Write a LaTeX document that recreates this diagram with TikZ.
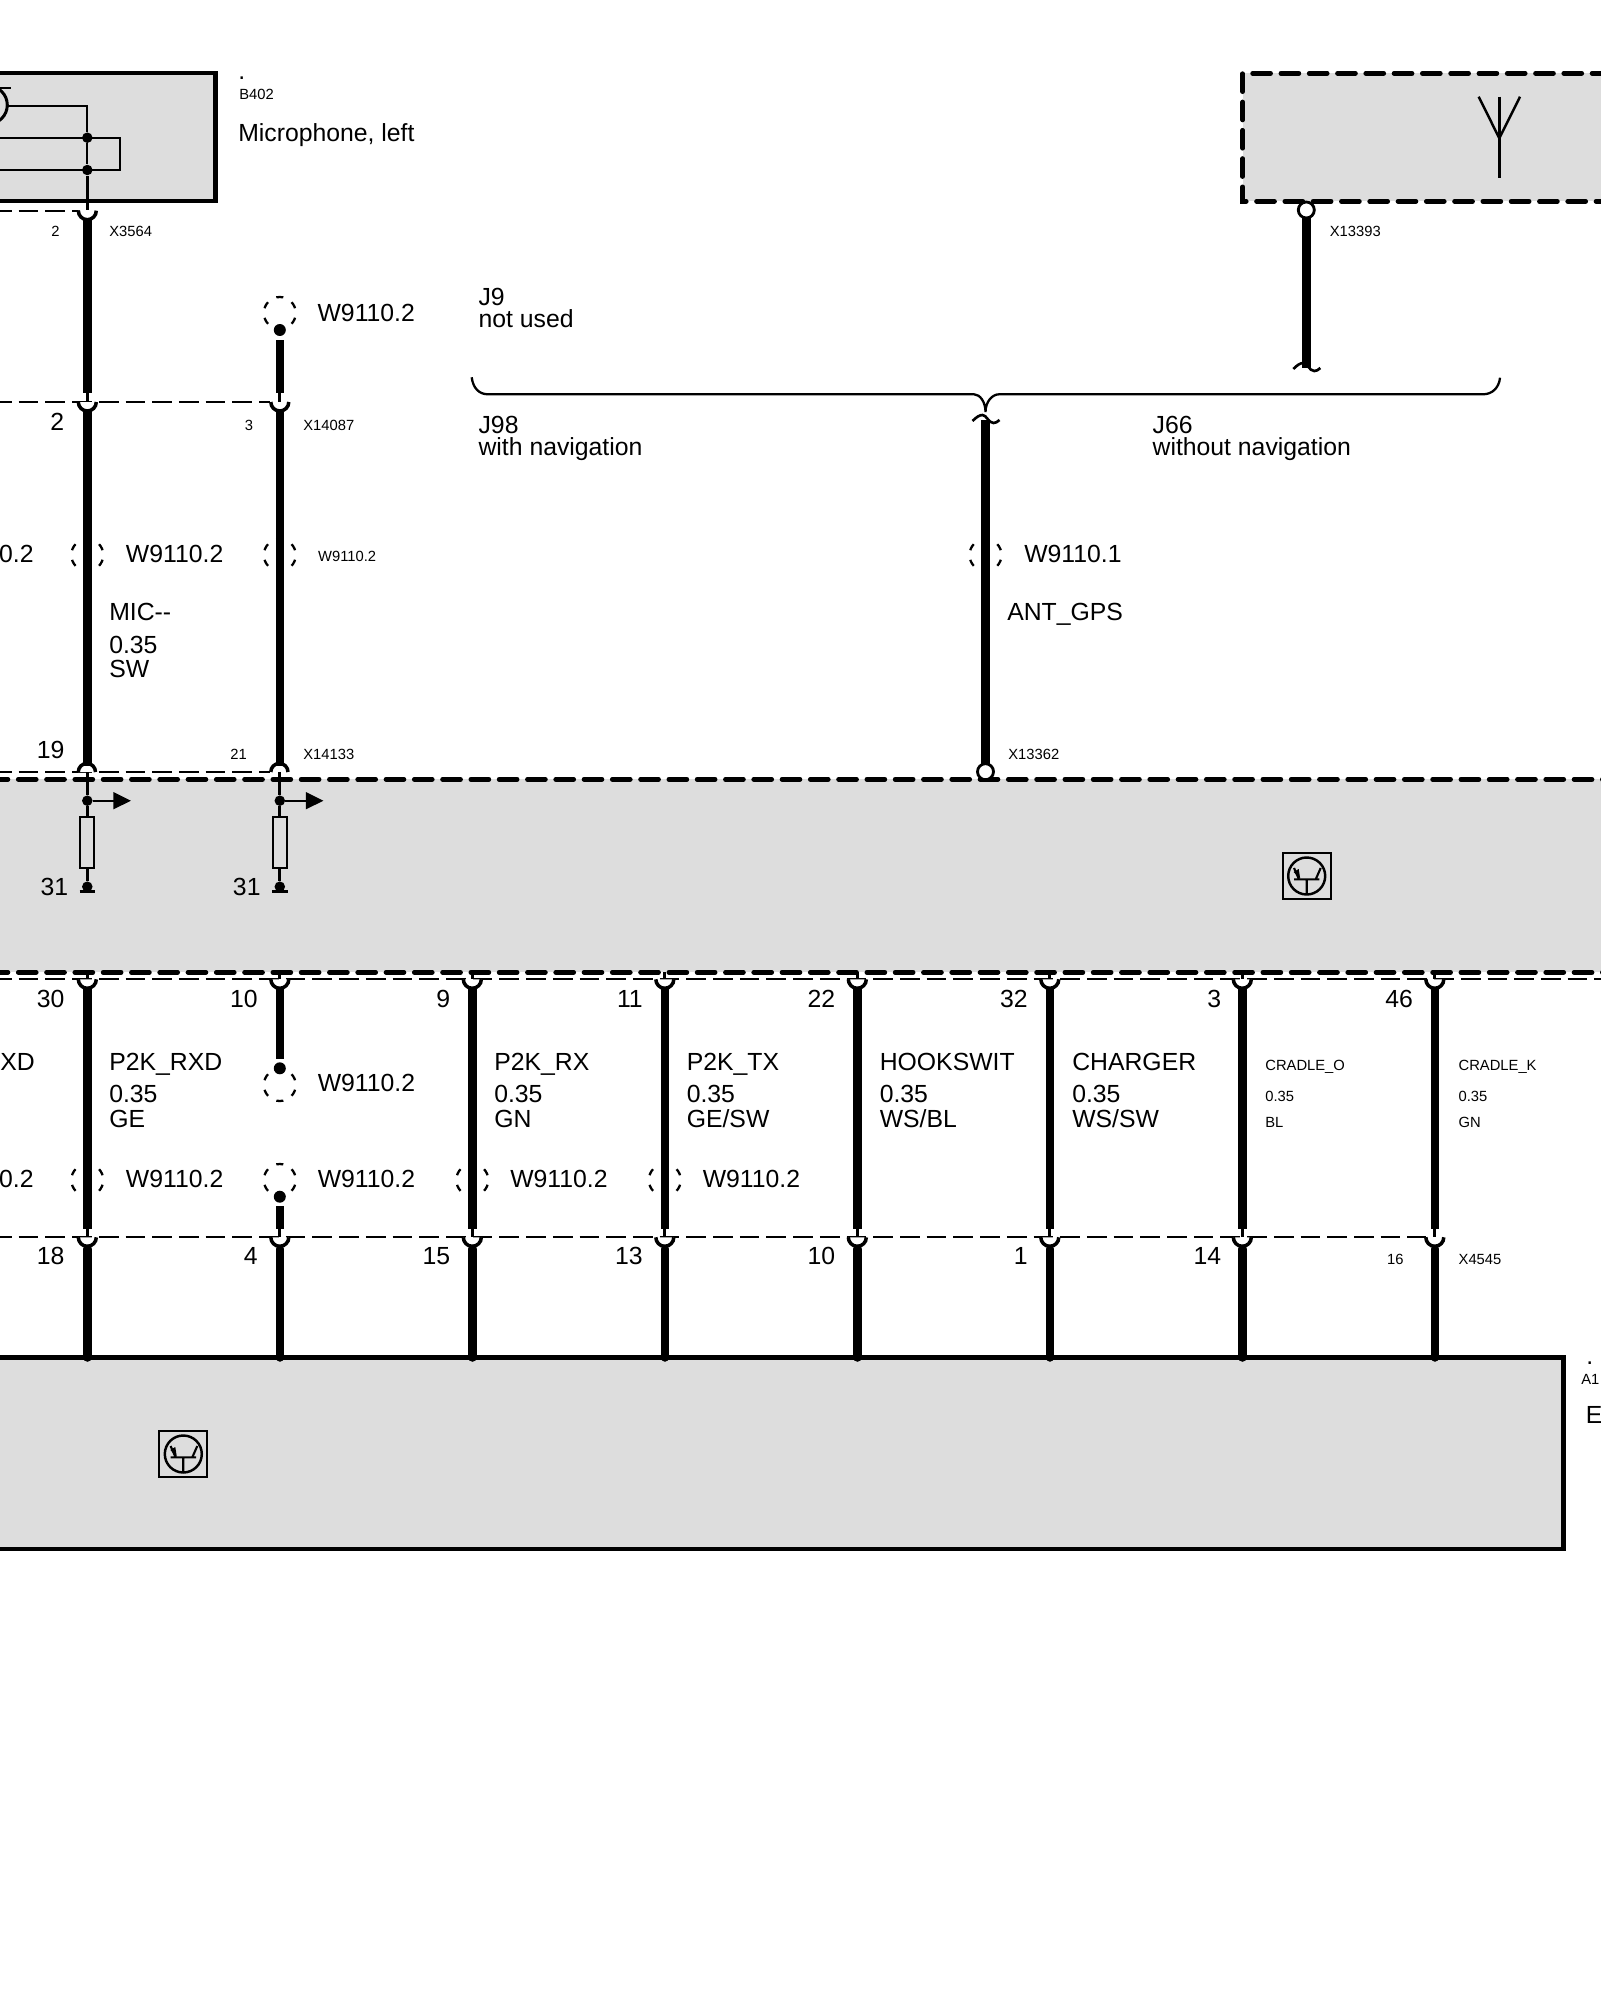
\documentclass[tikz,border=0pt]{standalone}
\usepackage{fontspec}
\setmainfont{Liberation Sans}
\usetikzlibrary{calc,positioning,arrows.meta}

\definecolor{unitgrey}{HTML}{DDDDDD}

\tikzset{
  big/.style={inner sep=0,anchor=base west,xshift=-0.6pt,yshift=-0.3pt,font=\fontsize{14.1}{14}\selectfont},
  bigr/.style={big,anchor=base east,xshift=1.5pt},
  small/.style={inner sep=0,anchor=base west,font=\fontsize{8.4}{9}\selectfont},
  wire/.style={line width=4.84pt},
  wireend/.style={wire,line cap=round},
  stem/.style={line width=1.8pt},
  thin wire/.style={line width=1.3pt},
  unit/.style={fill=unitgrey,line width=2.56pt,miter limit=10},
  unit dash/.style={line width=2.7pt,line cap=round,dash pattern=on 10.2pt off 5.9pt},
  sep dash/.style={line width=1pt,dash pattern=on 11.2pt off 4pt},
  shield/.style={circle,draw,inner sep=0,minimum size=0.64cm,line width=1.3pt,
                 dash pattern=on 3.98pt off 5.55pt,dash phase=6.77pt},
  dot/.style={circle,fill=black,inner sep=0,minimum size=0.21cm},
  bigdot/.style={dot,minimum size=0.24cm},
  ring/.style={circle,draw,fill=white,inner sep=0,outer sep=0,minimum size=0.32cm,line width=1.6pt},
  resistor/.style={rectangle,draw,inner sep=0,line width=1.1pt,minimum width=0.28cm,minimum height=1.014cm},
  cup/.pic={\draw[line width=2pt,fill=white] (-9,0) arc[start angle=180,end angle=0,radius=9];},
  dome/.pic={\draw[line width=2pt,fill=white] (-9,0) arc[start angle=180,end angle=360,radius=8.6];},
  tilde/.pic={\draw[line width=1.5pt] (-13,1) .. controls (-9,-3) and (-6,-5) .. (-3,-5)
     .. controls (1,-5) and (3,3) .. (8,3) .. controls (10,3) and (12,2) .. (14,0);},
  transistor/.pic={
    \draw[line width=1.1pt] (-24,-23) rectangle (24,23);
    \draw[line width=1.4pt] (0,0) circle (18.5);
    \draw[line width=1.2pt] (-12.7,3.3) -- (12.7,3.3) (0,3.3) -- (0,18.5)
       (-12.7,-8) -- (-7.7,3.3) (14,-8) -- (9,3.3);
    \fill (-6.5,2.5) -- (-13,-4) -- (-8,-7) -- cycle;}
}

\begin{document}
\begin{tikzpicture}[x=0.02cm,y=-0.02cm]
  \useasboundingbox (0,0) rectangle (1600,2000);

  % units
  \draw[unit] (-10,73) rectangle (215.7,201);
  \fill[unitgrey] (1242.7,73.3) rectangle (1610,201.3);
  \draw[unit dash] (1610,73.3) -- (1242.7,73.3) -- (1242.7,201.3) -- (1610,201.3);
  \fill[unitgrey] (-10,779.3) rectangle (1610,972.3);
  \draw[unit dash] (-10,779.3) -- (1610,779.3);
  \draw[unit dash] (-10,972.3) -- (1610,972.3);
  \draw[unit] (-10,1357.3) rectangle (1563.7,1549);

  % connector rows
  \draw[sep dash] (-8,210.7) -- (80,210.7);
  \draw[sep dash] (-8,402) -- (270,402);
  \draw[sep dash] (-8,771.7) -- (270,771.7);
  \draw[sep dash] (-8,979.3) -- (1610,979.3);
  \draw[sep dash] (-8,1237.3) -- (1426,1237.3);

  % microphone
  \draw[line width=1.7pt] (-11.7,105) circle (19);
  \draw[line width=1.3pt] (-5,88) -- (11,88);
  \coordinate (m1) at (7,105.7);
  \coordinate (m2) at (87.3,105.7);
  \node[dot] (m3) at (87.3,137.7) {};
  \node[dot] (m4) at (87.3,170) {};
  \coordinate (m5) at (-5,137.7);
  \coordinate (m6) at (120,137.7);
  \coordinate (m7) at (120,170);
  \coordinate (m8) at (-5,170);
  \coordinate (m9) at (87.3,210);
  \draw[thin wire] (m1) -- (m2) -- (m3);
  \draw[thin wire] (m5) -- (m6) -- (m7) -- (m8);
  \draw[thin wire] (m3) -- (m4);
  \pic at (87.3,210.7) {cup};
  \draw[stem] (m4) -- (m9);

  % antenna
  \draw[line width=1.4pt] (1499.3,96.7) -- (1499.3,178.3);
  \draw[line width=1.4pt] (1478.7,96.7) -- (1499.3,138.3) -- (1520,96.7);

  % brace
  \draw[line width=1.3pt] (471.7,377.3) .. controls (473,388) and (479,394.3) .. (488,394.3)
    -- (974,394.3) .. controls (980,394.3) and (985.5,402) .. (985.5,412)
    .. controls (985.5,402) and (992,394.3) .. (999,394.3)
    -- (1483,394.3) .. controls (1492,394.3) and (1499,388) .. (1500,377.7);

  % upper wires
  \node[shield] (sa) at (87.3,555) {};
  \node[shield] (sb) at (279.8,555) {};
  \node[shield] (sg) at (985.5,555) {};
  \node[shield] (sd) at (279.8,313) {};
  \node[bigdot] (db) at (279.8,330) {};

  \coordinate (a1) at (87.3,218);
  \coordinate (a2) at (87.3,393);
  \coordinate (a3) at (87.3,402);
  \coordinate (a4) at (87.3,409);
  \coordinate (a5) at (87.3,766);
  \coordinate (a6) at (87.3,772);
  \node[dot] (a7) at (87.3,800.7) {};
  \node[resistor] (ra) at (87.3,842.3) {};
  \node[dot] (ga) at (87.3,886.7) {};
  \coordinate (aa) at (131,800.7);
  \coordinate (b1) at (279.8,340);
  \coordinate (b2) at (279.8,393);
  \coordinate (b3) at (279.8,402);
  \coordinate (b4) at (279.8,409);
  \coordinate (b5) at (279.8,766);
  \coordinate (b6) at (279.8,772);
  \node[dot] (b7) at (279.8,800.7) {};
  \node[resistor] (rb) at (279.8,842.3) {};
  \node[dot] (gb) at (279.8,886.7) {};
  \coordinate (bb) at (323.5,800.7);

  \pic at (a3) {cup};
  \pic at (b3) {cup};
  \pic at (a6) {dome};
  \pic at (b6) {dome};
  \path[draw,wire]
    (a1) edge (a2)
    (a4) edge (a5)
    (b1) edge (b2)
    (b4) edge (b5);
  \path[draw,stem]
    (a2) edge (a3)
    (b2) edge (b3);
  \path[draw,thin wire,line width=1.5pt]
    (a6) edge (a7)
    (b6) edge (b7)
    (a7) edge (ra.north)
    (b7) edge (rb.north)
    (ra.south) edge (ga)
    (rb.south) edge (gb);
  \draw[thin wire,-{Triangle[length=10pt,width=9.5pt]}] (a7) -- (aa);
  \draw[thin wire,-{Triangle[length=10pt,width=9.5pt]}] (b7) -- (bb);
  \draw[thin wire] (79.5,891.5) -- (95,891.5);
  \draw[thin wire] (272,891.5) -- (287.5,891.5);

  % navigation wires
  \coordinate (g1) at (985.5,420);
  \coordinate (g2) at (985.5,771.7);
  \coordinate (t1) at (1306.3,368);
  \coordinate (t2) at (1306.3,210);
  \draw[wire] (g1) -- (g2);
  \draw[wire] (t2) -- (t1);
  \node[ring] (rg) at (g2) {};
  \node[ring] (rt) at (t2) {};
  \pic at (g1) {tilde};
  \pic at (t1) {tilde};

  % lower wires
  \node[shield] (s1) at (87.3,1180) {};
  \node[shield] (s3) at (472.3,1180) {};
  \node[shield] (s4) at (664.8,1180) {};
  \node[shield] (s2a) at (279.8,1085) {};
  \node[shield] (s2b) at (279.8,1180) {};
  \node[bigdot] (d2a) at (279.8,1068.3) {};
  \node[bigdot] (d2b) at (279.8,1196.7) {};
  \coordinate (c1) at (279.8,988);
  \coordinate (c2) at (279.8,1059);
  \coordinate (c3) at (279.8,1206);
  \coordinate (c4) at (279.8,1229);
  \draw[wire] (c1) -- (c2);
  \draw[wire] (c3) -- (c4);

  \foreach \n/\x in {1/87.3,2/279.8,3/472.3,4/664.8,5/857.3,6/1049.8,7/1242.3,8/1434.8} {
    \coordinate (p\n a) at (\x,972.3);
    \coordinate (p\n b) at (\x,979.3);
    \coordinate (p\n c) at (\x,988);
    \coordinate (p\n d) at (\x,1229);
    \coordinate (p\n e) at (\x,1237.3);
    \coordinate (p\n f) at (\x,1249);
    \coordinate (p\n g) at (\x,1357.5);
    \pic at (p\n b) {cup};
    \pic at (p\n e) {cup};
    \draw[stem] (p\n a) -- (p\n b);
    \draw[stem] (p\n d) -- (p\n e);
    \draw[wireend] (p\n f) -- (p\n g);
  }
  \foreach \n in {1,3,4,5,6,7,8} {
    \draw[wire] (p\n c) -- (p\n d);
  }

  % transistor marks
  \pic at (1306.7,876) {transistor};
  \pic at (183.3,1454) {transistor};

  % texts of the top part
  \node[big] (l1) at (239,79) {.};
  \node[small] (l2) at (239,100) {B402};
  \node[big] (l3) at (239,140.7) {Microphone, left};
  \node[small] (l4) at (51,236.7) {2};
  \node[small] (l5) at (109,236.7) {X3564};
  \node[big] (l6) at (318.3,320.7) {W9110.2};
  \node[small] (l7) at (1329.5,236.7) {X13393};
  \node[big] (l8) at (479.3,305) {J9};
  \node[big] (l9) at (479.3,326.7) {not used};
  \node[big] (l10) at (479.3,433.3) {J98};
  \node[big] (l11) at (479.3,455) {with navigation};
  \node[big] (l12) at (1153.3,433.3) {J66};
  \node[big] (l13) at (1153.3,455) {without navigation};
  \node[big] (l14) at (51,430) {2};
  \node[small] (l15) at (244.5,430) {3};
  \node[small] (l16) at (303,430) {X14087};
  \node[bigr] (l17) at (32.3,561.7) {0.2};
  \node[big] (l18) at (126.7,561.7) {W9110.2};
  \node[small] (l19) at (317.8,561.7) {W9110.2};
  \node[big] (l20) at (1025,561.7) {W9110.1};
  \node[big] (l21) at (110,620) {MIC{-}{-}};
  \node[big] (l22) at (110,653.3) {0.35};
  \node[big] (l23) at (110,677.3) {SW};
  \node[big] (l24) at (1008,620) {ANT\_GPS};
  \node[bigr] (l25) at (63.3,758) {19};
  \node[small] (l26) at (230,759.3) {21};
  \node[small] (l27) at (303,759.3) {X14133};
  \node[small] (l28) at (1008,759.3) {X13362};
  \node[bigr] (l29) at (67,895) {31};
  \node[bigr] (l30) at (259.3,895) {31};

  % pins and signals of the lower wires
  \foreach \x/\pa in {63.3/30,256.5/10,449/9,641.5/11,834/22,1026.5/32,1220/3,1411.7/46} {
    \node[bigr] (top\pa) at (\x,1006.7) {\pa};
  }
  \foreach \x/\pb in {63.3/18,256.5/4,449/15,641.5/13,834/10,1026.5/1,1220/14} {
    \node[bigr] (bot\pb) at (\x,1264) {\pb};
  }
  \node[small] (l31) at (1386.7,1264) {16};
  \node[small] (l32) at (1458.3,1264) {X4545};
  \node[big] (l33) at (1,1070) {XD};
  \foreach \x/\sig/\col in {110/P2K\_RXD/GE,495/P2K\_RX/GN,687.5/P2K\_TX/GE\slash SW,880.5/HOOKSWIT/WS\slash BL,1073/CHARGER/WS\slash SW} {
    \node[big] at (\x,1070) {\sig};
    \node[big] at (\x,1101.7) {0.35};
    \node[big] at (\x,1127.3) {\col};
  }
  \foreach \x/\sig/\col in {1265/CRADLE\_O/BL,1458.3/CRADLE\_K/GN} {
    \node[small] at (\x,1070) {\sig};
    \node[small] at (\x,1101.7) {0.35};
    \node[small] at (\x,1127.3) {\col};
  }
  \node[bigr] (l34) at (32.3,1187.3) {0.2};
  \foreach \x in {126.7,318.5,511,703.5} {
    \node[big] at (\x,1187.3) {W9110.2};
  }
  \node[big] (l35) at (318.5,1090.7) {W9110.2};
  \node[big] (l36) at (1587,1364) {.};
  \node[small] (l37) at (1581,1384) {A1};
  \node[big] (l38) at (1586.5,1423) {E};
\end{tikzpicture}
\end{document}
